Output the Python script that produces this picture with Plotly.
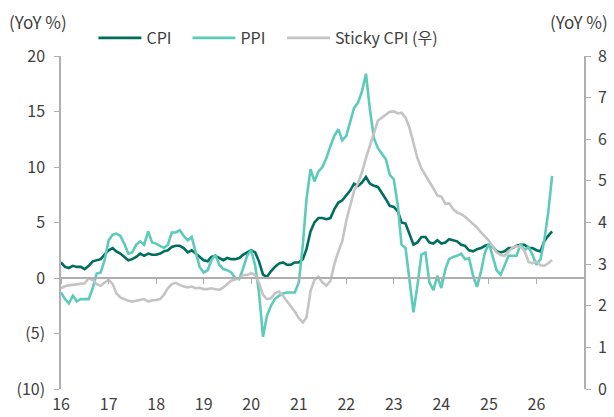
import pandas as pd
import plotly.graph_objects as go

months = pd.date_range("2016-01-01", periods=125, freq="MS")

cpi = [1.4, 1.0, 0.9, 1.1, 1.0, 1.0, 0.8, 1.1, 1.5, 1.6, 1.7, 2.1,
       2.5, 2.7, 2.4, 2.2, 1.9, 1.6, 1.7, 1.9, 2.2, 2.0, 2.2, 2.1,
       2.1, 2.2, 2.4, 2.5, 2.8, 2.9, 2.9, 2.7, 2.3, 2.5, 2.2, 1.9,
       1.6, 1.5, 1.9, 2.0, 1.8, 1.6, 1.8, 1.7, 1.7, 1.8, 2.1, 2.3,
       2.5, 2.3, 1.5, 0.3, 0.1, 0.6, 1.0, 1.3, 1.4, 1.2, 1.2, 1.4,
       1.4, 1.7, 2.6, 4.2, 5.0, 5.4, 5.4, 5.3, 5.4, 6.2, 6.8, 7.0,
       7.5, 7.9, 8.5, 8.3, 8.6, 9.1, 8.5, 8.3, 8.2, 7.7, 7.1, 6.5,
       6.4, 6.0, 5.0, 4.9, 4.0, 3.0, 3.2, 3.7, 3.7, 3.2, 3.1, 3.4,
       3.1, 3.2, 3.5, 3.4, 3.3, 3.0, 2.9, 2.5, 2.4, 2.6, 2.7, 2.9,
       3.0, 2.8, 2.4, 2.3, 2.4, 2.7, 2.7, 2.9, 3.0, 3.0, 2.7, 2.7,
       2.5, 2.4, 3.3, 3.8, 4.2]

ppi = [-1.3, -1.9, -2.3, -1.6, -2.1, -1.9, -1.9, -1.9, -0.9, 0.4, 0.5, 1.6,
       3.4, 3.9, 4.0, 3.8, 3.1, 2.2, 2.3, 3.0, 3.3, 3.0, 4.2, 3.2,
       3.1, 2.9, 2.7, 3.0, 4.1, 4.1, 4.3, 3.8, 3.4, 3.7, 2.2, 1.0,
       0.5, 0.7, 1.6, 2.1, 1.2, 0.8, 0.7, 0.5, 0.0, -0.1, 0.9, 2.0,
       2.5, 1.1, -1.3, -5.3, -3.4, -2.5, -1.9, -1.6, -1.4, -1.3, -1.3, -1.3,
       -0.4, 3.0, 7.1, 9.8, 8.7, 9.6, 10.0, 10.8, 11.9, 12.8, 13.4, 12.4,
       12.8, 14.0, 15.3, 15.8, 16.8, 18.4, 15.2, 12.6, 11.7, 11.2, 10.7, 9.3,
       8.9, 6.5, 3.0, 2.7, -0.1, -3.1, -0.7, 2.1, 2.3, -0.4, -1.1, 0.2,
       -0.9, 0.8, 1.7, 1.9, 2.0, 2.2, 1.7, 1.8, 0.2, -0.8, 0.6, 2.3,
       3.1, 1.7, 0.7, 0.3, 1.1, 2.0, 2.0, 2.0, 3.1, 2.5, 2.8, 2.1,
       1.2, 1.7, 3.3, 5.9, 9.2]

sticky_cpi = [2.42, 2.47, 2.49, 2.50, 2.51, 2.52, 2.54, 2.66, 2.62, 2.52, 2.48, 2.56,
              2.62, 2.52, 2.30, 2.20, 2.16, 2.12, 2.10, 2.12, 2.14, 2.16, 2.10, 2.13,
              2.14, 2.16, 2.26, 2.42, 2.52, 2.55, 2.50, 2.46, 2.44, 2.46, 2.42, 2.43,
              2.40, 2.40, 2.42, 2.40, 2.38, 2.44, 2.52, 2.60, 2.63, 2.66, 2.74, 2.74,
              2.78, 2.74, 2.55, 2.26, 2.16, 2.18, 2.30, 2.34, 2.24, 2.12, 1.98, 1.86,
              1.70, 1.60, 1.72, 2.35, 2.62, 2.70, 2.56, 2.48, 2.60, 3.00, 3.30, 3.55,
              4.05, 4.45, 4.75, 4.95, 5.20, 5.55, 5.85, 6.12, 6.45, 6.52, 6.60, 6.66,
              6.67, 6.62, 6.64, 6.52, 6.28, 5.90, 5.55, 5.30, 5.15, 4.98, 4.82, 4.65,
              4.62, 4.45, 4.46, 4.32, 4.24, 4.20, 4.14, 4.06, 3.97, 3.88, 3.76, 3.66,
              3.56, 3.42, 3.28, 3.22, 3.20, 3.30, 3.40, 3.43, 3.42, 3.32, 3.05, 3.02,
              3.06, 2.97, 2.96, 3.02, 3.10]

year_ticks = pd.date_range("2016-01-01", "2026-01-01", freq="YS")
year_labels = ["16", "17", "18", "19", "20", "21", "22", "23", "24", "25", "26"]
left_ticks = [-10, -5, 0, 5, 10, 15, 20]
left_labels = ["(10)", "(5)", "0", "5", "10", "15", "20"]
right_ticks = [0, 1, 2, 3, 4, 5, 6, 7, 8]

FONT = "Noto Sans CJK KR, Malgun Gothic, sans-serif"
TXT = "#404040"
AX = "#AFAFAF"

fig = go.Figure()
fig.add_trace(go.Scatter(x=months, y=cpi, name="CPI", mode="lines",
                         line=dict(color="#006E5E", width=2.6), legend="legend"))
fig.add_trace(go.Scatter(x=months, y=ppi, name="PPI", mode="lines",
                         line=dict(color="#5DCBB9", width=2.6), legend="legend"))
fig.add_trace(go.Scatter(x=months, y=sticky_cpi, name="Sticky CPI (우)", mode="lines",
                         line=dict(color="#C4C4C4", width=2.6), yaxis="y2",
                         legend="legend2"))
# invisible helper trace for the zero-line axis carrying tick marks
fig.add_trace(go.Scatter(x=[months[0]], y=[0], xaxis="x2", mode="markers",
                         marker=dict(opacity=0), showlegend=False, hoverinfo="skip"))

xrange = ["2016-01-01", "2027-01-01"]
fig.update_layout(
    width=614, height=417,
    margin=dict(l=61, r=30, t=56, b=28, autoexpand=False),
    paper_bgcolor="white", plot_bgcolor="white",
    font=dict(family=FONT, size=16, color=TXT),
    showlegend=True,
    legend=dict(orientation="h", x=0.062, xanchor="left", y=1.054, yanchor="middle",
                font=dict(size=16, color=TXT), bgcolor="rgba(0,0,0,0)",
                traceorder="normal", itemwidth=43, entrywidth=36),
    legend2=dict(orientation="h", x=0.4226, xanchor="left", y=1.054, yanchor="middle",
                 font=dict(size=16, color=TXT), bgcolor="rgba(0,0,0,0)",
                 itemwidth=43),
    xaxis=dict(type="date", range=xrange, tickvals=year_ticks, ticktext=year_labels,
               showline=False, showgrid=False, zeroline=False, ticks="",
               ticklabelstandoff=4, tickfont=dict(size=16, color=TXT)),
    xaxis2=dict(type="date", range=xrange, overlaying="x", anchor="free", position=1/3,
                tickvals=year_ticks, showticklabels=False, showline=True,
                linecolor=AX, linewidth=1.5, ticks="outside", ticklen=5,
                tickwidth=1.2, tickcolor=AX, showgrid=False, zeroline=False),
    yaxis=dict(range=[-10, 20], tickvals=left_ticks, ticktext=left_labels,
               showline=True, linecolor=AX, linewidth=1.5, ticks="outside",
               ticklen=5, tickwidth=1.2, tickcolor=AX, showgrid=False,
               zeroline=False, ticklabelstandoff=6, tickfont=dict(size=16, color=TXT)),
    yaxis2=dict(range=[0, 8], tickvals=right_ticks, overlaying="y", side="right",
                showline=True, linecolor=AX, linewidth=1.5, ticks="outside",
                ticklen=5, tickwidth=1.2, tickcolor=AX, showgrid=False,
                zeroline=False, ticklabelstandoff=4, tickfont=dict(size=16, color=TXT)),
    annotations=[
        dict(text="(YoY %)", xref="paper", yref="paper", x=-0.103, y=1.105,
             xanchor="left", yanchor="middle", showarrow=False,
             font=dict(size=17, color=TXT)),
        dict(text="(YoY %)", xref="paper", yref="paper", x=1.05, y=1.105,
             xanchor="right", yanchor="middle", showarrow=False,
             font=dict(size=17, color=TXT)),
    ],
)

fig.write_html("out.html", config={"displayModeBar": False},
               post_script="document.body.style.margin='0';document.body.style.padding='0';document.body.style.overflow='hidden';")
